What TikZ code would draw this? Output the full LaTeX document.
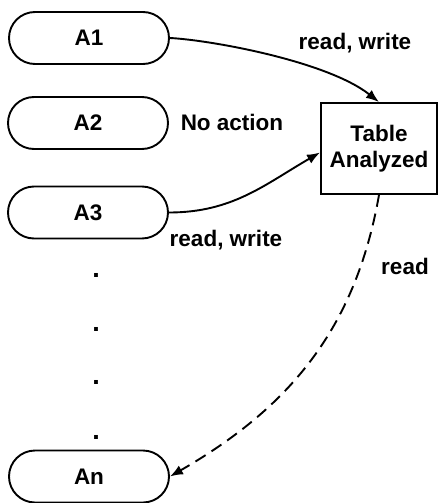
\documentclass[tikz,border=0pt]{standalone}
\usepackage{fontspec}
\setmainfont{Liberation Sans}
\usetikzlibrary{arrows.meta}
\begin{document}
\begin{tikzpicture}[x=1pt,y=-1pt,
  every node/.style={font=\fontsize{22.5}{26}\selectfont\bfseries},
  actor/.style={draw,line width=1.9pt,rounded corners=26pt,minimum width=160pt,minimum height=52pt,inner sep=0pt},
  tablebox/.style={draw,line width=1.9pt,minimum width=116pt,minimum height=91pt,align=center,inner sep=0pt},
  link/.style={line width=1.9pt,-{Latex[length=13pt,width=10pt]}},
  dotmark/.style={inner sep=0pt,font=\fontsize{27}{30}\selectfont\bfseries}]
\useasboundingbox (0,0) rectangle (439,503);
% actors
\node[actor] (a1) at (89,38) {A1};
\node[actor] (a2) at (88,123) {A2};
\node[actor] (a3) at (88,212.5) {A3};
\node[actor] (an) at (89,476.5) {An};
% shared table
\node[tablebox] (t) at (379,148.5) {Table\\Analyzed};
% ellipsis dots
\node[dotmark] (d1) at (96,275) {.};
\node[dotmark] (d2) at (96,329) {.};
\node[dotmark] (d3) at (96,382) {.};
\node[dotmark] (d4) at (96,437) {.};
% accesses
\draw[link] (a1.east) .. controls +(40,2) and +(-52,-41) .. (t.north);
\draw[link] (a3.east) to[out=0,in=210] ([yshift=-4pt]t.west);
\draw[link,dash pattern=on 12pt off 7pt] (t.south) to[out=-100,in=30] (an.east);
% labels
\node (l1) at (355,43) {read, write};
\node (l2) at (232,122) {No action};
\node (l3) at (226,240) {read, write};
\node (l4) at (405,266) {read};
\end{tikzpicture}
\end{document}
